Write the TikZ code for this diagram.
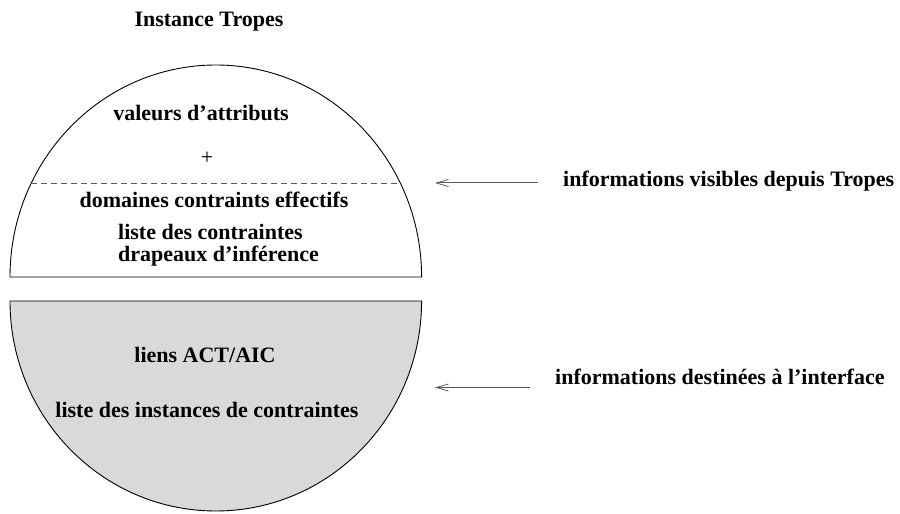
\documentclass[tikz,border=0pt]{standalone}
\usepackage{fontspec}
\setmainfont{Liberation Serif}
\usetikzlibrary{arrows.meta}
\definecolor{shade}{RGB}{217,217,217}
\definecolor{linegray}{RGB}{90,90,90}
\begin{document}
\begin{tikzpicture}[x=1pt,y=1pt,
  lbl/.style={inner sep=0pt,font=\fontsize{22}{22}\selectfont\bfseries},
  shapeline/.style={draw=black,line width=0.9pt},
  pointer/.style={draw=linegray,line width=1pt,-{Straight Barb[length=12pt,width=7pt,line width=0.8pt]}}]
\useasboundingbox (0,0) rectangle (900,514);
% upper segment
\draw[shapeline] (10,237) arc[start angle=180,end angle=0,x radius=205.8,y radius=212] -- cycle;
% lower segment
\draw[shapeline,fill=shade] (10,213) arc[start angle=180,end angle=360,x radius=205.8,y radius=210] -- cycle;
% dashed separator
\coordinate (dl) at (31.3,331);
\coordinate (dr) at (400.3,331);
\draw[linegray,line width=0.9pt,dash pattern=on 6pt off 4pt] (dl) -- (dr);
% texts
\node[lbl,anchor=base] (title) at (209,487) {Instance Tropes};
\node[lbl,anchor=base] (val) at (201,393) {valeurs d’attributs};
\node[lbl,anchor=base,font=\fontsize{22}{22}\selectfont] (plus) at (207,349.5) {+};
\node[lbl,anchor=base] (dom) at (214,306) {domaines contraints effectifs};
\node[lbl,anchor=base west] (liste) at (118,274) {liste des contraintes};
\node[lbl,anchor=base west] (drap) at (118,252) {drapeaux d’inférence};
\node[lbl,anchor=base] (liens) at (205,151) {liens ACT/AIC};
\node[lbl,anchor=base] (inst) at (207,96) {liste des instances de contraintes};
\node[lbl,anchor=base west] (info1) at (563,327) {informations visibles depuis Tropes};
\node[lbl,anchor=base west] (info2) at (555,129) {informations destinées à l’interface};
% pointers
\coordinate (a1s) at (538,331);
\coordinate (a1e) at (435,331);
\coordinate (a2s) at (530,126.5);
\coordinate (a2e) at (435,126.5);
\draw[pointer] (a1s) -- (a1e);
\draw[pointer] (a2s) -- (a2e);
\end{tikzpicture}
\end{document}
